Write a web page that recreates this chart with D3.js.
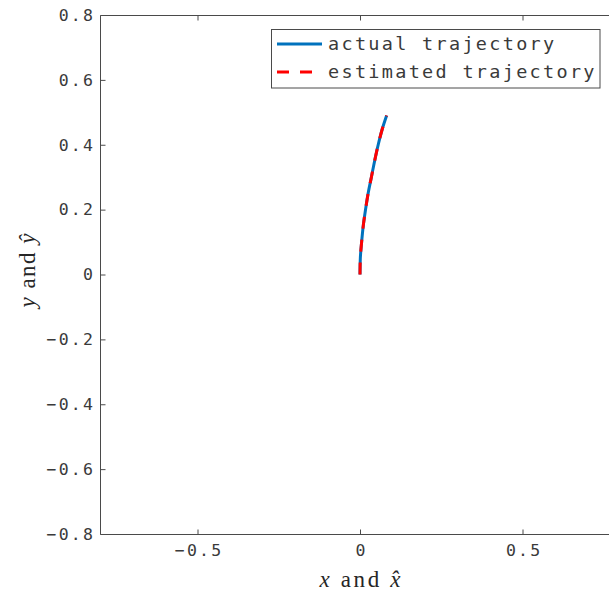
<!DOCTYPE html>
<html><head><meta charset="utf-8">
<script src="https://cdn.jsdelivr.net/npm/d3@7"></script>
<style>
html,body{margin:0;padding:0;background:#fff;}
svg{display:block;}
</style></head>
<body>
<svg id="chart" width="609" height="594"></svg>
<script>
// ---- data ----
const xActual = [0, 0.001, 0.005, 0.010, 0.017, 0.025, 0.035, 0.045, 0.056, 0.069, 0.082];
const yActual = [0, 0.05, 0.10, 0.15, 0.20, 0.25, 0.30, 0.35, 0.40, 0.45, 0.49];
const xEstimated = [0, 0.001, 0.005, 0.010, 0.017, 0.025, 0.035, 0.045, 0.056, 0.069, 0.082];
const yEstimated = [0, 0.05, 0.10, 0.15, 0.20, 0.25, 0.30, 0.35, 0.40, 0.45, 0.49];
const xTicks = [-0.5, 0, 0.5];
const yTicks = [-0.8, -0.6, -0.4, -0.2, 0, 0.2, 0.4, 0.6, 0.8];
const seriesNames = ["actual trajectory", "estimated trajectory"];
const xDomain = [-0.8, 0.8];
const yDomain = [-0.8, 0.8];

const svg = d3.select("#chart");
const L = 100, R = 620, T = 15, B = 534;
const x = d3.scaleLinear().domain(xDomain).range([L, R]);
const y = d3.scaleLinear().domain(yDomain).range([B, T]);
const axisColor = "#4a4a4a";
const textColor = "#3a3a3a";
const fmt = d => d === 0 ? "0" : d3.format(".1f")(d);
const monoFont = "'DejaVu Sans Mono', 'Liberation Mono', monospace";
const serifFont = "'Liberation Serif', 'DejaVu Serif', serif";

// axes box (left, top, bottom; right side lies beyond the canvas)
svg.append("path")
  .attr("d", `M${R},${T + 0.5}H${L + 0.5}V${B + 0.5}H${R}`)
  .attr("fill", "none").attr("stroke", axisColor).attr("stroke-width", 1);

// left axis
const gy = svg.append("g").attr("transform", `translate(${L + 0.5},0)`)
  .call(d3.axisLeft(y).tickValues(yTicks).tickSize(-5).tickPadding(7).tickFormat(fmt));
gy.select(".domain").remove();
gy.selectAll(".tick line").attr("stroke", axisColor);
gy.selectAll(".tick text")
  .attr("font-family", monoFont).attr("font-size", 16.5)
  .attr("letter-spacing", 2.2).attr("fill", textColor)
  .attr("dx", 1.6);

// bottom axis
const gx = svg.append("g").attr("transform", `translate(0,${B + 0.5})`)
  .call(d3.axisBottom(x).tickValues(xTicks).tickSize(-5).tickPadding(10).tickFormat(fmt));
gx.select(".domain").remove();
gx.selectAll(".tick line").attr("stroke", axisColor);
gx.selectAll(".tick text")
  .attr("font-family", monoFont).attr("font-size", 16.5)
  .attr("letter-spacing", 2.2).attr("fill", textColor)
  .attr("dx", 1.1);

// top axis (ticks only)
const gt = svg.append("g").attr("transform", `translate(0,${T + 0.5})`)
  .call(d3.axisTop(x).tickValues(xTicks).tickSize(-5).tickFormat(""));
gt.select(".domain").remove();
gt.selectAll(".tick line").attr("stroke", axisColor);

// lines
const ptsA = xActual.map((v, i) => [v, yActual[i]]);
const ptsE = xEstimated.map((v, i) => [v, yEstimated[i]]);
const line = d3.line().x(d => x(d[0])).y(d => y(d[1])).curve(d3.curveMonotoneY);
svg.append("path").datum(ptsA).attr("d", line)
  .attr("fill", "none").attr("stroke", "#0072BD").attr("stroke-width", 3);
svg.append("path").datum(ptsE).attr("d", line)
  .attr("fill", "none").attr("stroke", "#FF0000").attr("stroke-width", 3)
  .attr("stroke-dasharray", "12,11");

// axis labels
svg.append("text")
  .attr("x", x(0)).attr("y", 586.5).attr("text-anchor", "middle")
  .attr("font-family", serifFont).attr("font-size", 23)
  .attr("fill", "#262626")
  .attr("textLength", 81).attr("lengthAdjust", "spacing")
  .html('<tspan font-style="italic">x</tspan> and <tspan font-style="italic">x̂</tspan>');

svg.append("text")
  .attr("transform", `translate(35,${y(0) - 4}) rotate(-90)`)
  .attr("text-anchor", "middle")
  .attr("font-family", serifFont).attr("font-size", 23)
  .attr("fill", "#262626")
  .attr("textLength", 74).attr("lengthAdjust", "spacing")
  .html('<tspan font-style="italic">y</tspan> and <tspan font-style="italic">ŷ</tspan>');

// legend
const lg = svg.append("g");
lg.append("rect").attr("x", 271.5).attr("y", 29.5).attr("width", 328.5).attr("height", 58.5)
  .attr("fill", "#fff").attr("stroke", axisColor).attr("stroke-width", 1);
const legendItems = [
  {name: seriesNames[0], color: "#0072BD", dash: null, cy: 44},
  {name: seriesNames[1], color: "#FF0000", dash: "12,11", cy: 72}
];
legendItems.forEach(it => {
  lg.append("line").attr("x1", 277).attr("x2", 322).attr("y1", it.cy).attr("y2", it.cy)
    .attr("stroke", it.color).attr("stroke-width", 3)
    .attr("stroke-dasharray", it.dash);
  lg.append("text").attr("x", 328).attr("y", it.cy + 6)
    .attr("font-family", monoFont).attr("font-size", 18.5)
    .attr("letter-spacing", 2.3).attr("fill", textColor)
    .text(it.name);
});
</script>
</body></html>
